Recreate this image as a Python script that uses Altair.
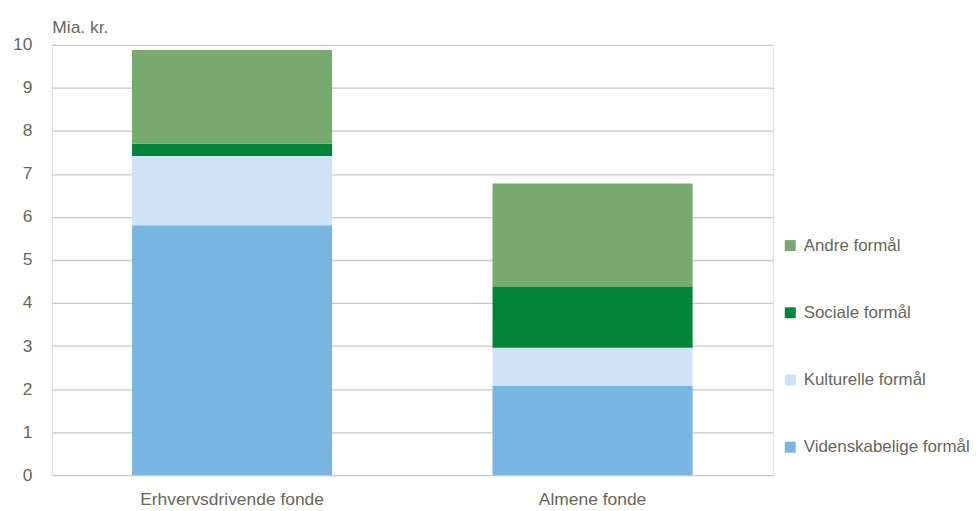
import altair as alt
import pandas as pd

categories = ["Erhvervsdrivende fonde", "Almene fonde"]
series = ["Videnskabelige formål", "Kulturelle formål", "Sociale formål", "Andre formål"]
vid = [5.81, 2.07]
kult = [1.61, 0.89]
soc = [0.28, 1.41]
andre = [2.18, 2.41]
colors = ["#77B5E3", "#CFE2F6", "#00853A", "#78A96F"]

rows = []
for i, c in enumerate(categories):
    for j, (s, vals) in enumerate(zip(series, [vid, kult, soc, andre])):
        rows.append({"fond": c, "formaal": s, "value": vals[i], "ord": j})
df = pd.DataFrame(rows)

FONT = "Liberation Sans"
TXT = "#67675A"
FS = 17.5

legend_order = list(reversed(series))
legend_colors = list(reversed(colors))

chart = alt.Chart(df).mark_bar().encode(
    x=alt.X("fond:N", sort=categories, title=None,
            scale=alt.Scale(paddingInner=0.445, paddingOuter=0.2225),
            axis=alt.Axis(labelAngle=0, labelFontSize=FS, labelFont=FONT, labelColor=TXT,
                          labelLimit=400, ticks=False, domain=False, labelPadding=16,
                          grid=False)),
    y=alt.Y("value:Q", stack="zero", title="Mia. kr.",
            scale=alt.Scale(domain=[0, 10]),
            axis=alt.Axis(values=list(range(0, 11)), labelFontSize=FS, labelFont=FONT,
                          labelColor=TXT, ticks=False, domain=False, labelPadding=20,
                          gridColor="#C9C9C1", gridWidth=1.3,
                          titleAngle=0, titleAlign="left", titleBaseline="alphabetic",
                          titleX=0, titleY=-12, titleFont=FONT, titleFontSize=FS,
                          titleFontWeight="normal", titleColor=TXT)),
    color=alt.Color("formaal:N", title=None,
                    scale=alt.Scale(domain=legend_order, range=legend_colors),
                    legend=alt.Legend(orient="none", legendX=733, legendY=193,
                                      symbolType="square", symbolSize=121,
                                      symbolStrokeWidth=0, labelFont=FONT,
                                      labelFontSize=17, labelColor=TXT, labelLimit=400,
                                      rowPadding=49.5, labelOffset=5, padding=0)),
    order=alt.Order("ord:Q", sort="ascending"),
).properties(
    width=724, height=432,
    autosize=alt.AutoSizeParams(type="none"),
    padding={"top": 36, "left": 44, "right": 199, "bottom": 34},
).configure_view(stroke=None).configure(background="white")

chart.save("out.html", embed_options={"renderer": "svg", "actions": False})
